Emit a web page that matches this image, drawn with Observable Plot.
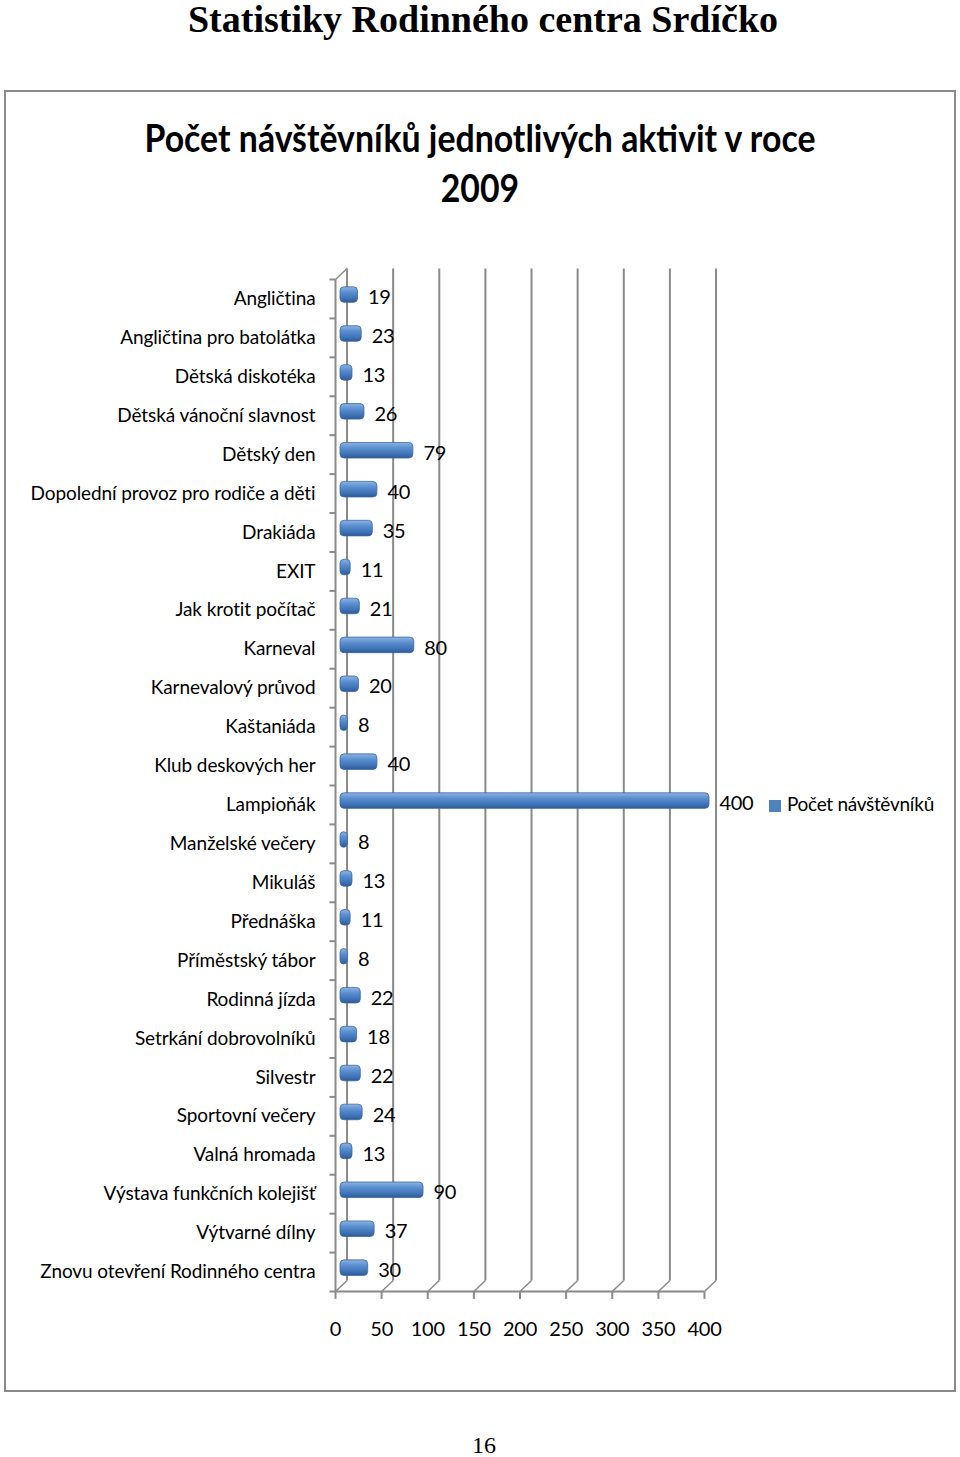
<!DOCTYPE html>
<html>
<head>
<meta charset="utf-8">
<script src="https://cdn.jsdelivr.net/npm/d3@7"></script>
<script src="https://cdn.jsdelivr.net/npm/@observablehq/plot@0.6"></script>
<style>
  html, body { margin: 0; padding: 0; background: #fff; }
  body { width: 960px; height: 1457px; position: relative; overflow: hidden; }
  #pagetitle { position: absolute; left: 0; top: -1px; width: 966px; text-align: center;
    font-family: "Liberation Serif", serif; font-weight: bold; font-size: 38px; line-height: 40px; color: #000; }
  #box { position: absolute; left: 4px; top: 90px; width: 948px; height: 1298px; border: 2px solid #8a8a8a; }
  #charttitle { position: absolute; left: 0; top: 112px; width: 960px; text-align: center;
    font-family: Lato, sans-serif; font-weight: bold; font-size: 38px; line-height: 50px; color: #000;
    transform: scaleX(0.89); transform-origin: 480px 0; }
  #chart { position: absolute; left: 0; top: 230px; }
  #legend { position: absolute; left: 769px; top: 792px; font-family: Lato, sans-serif;
    font-size: 19px; letter-spacing: -0.3px; color: #000; white-space: nowrap; }
  #legend span.sw { display: inline-block; width: 12px; height: 12px; background: #4f81bd; margin-right: 6px; vertical-align: -1px; }
  #pagenum { position: absolute; left: 0; top: 1432px; width: 968px; text-align: center;
    font-family: "Liberation Serif", serif; font-size: 24px; color: #000; }
  #chart g[aria-label="y-axis tick label"] text { letter-spacing: -0.1px; }
</style>
</head>
<body>
<div id="pagetitle">Statistiky Rodinného centra Srdíčko</div>
<div id="box"></div>
<div id="charttitle">Počet návštěvníků jednotlivých aktivit v roce<br>2009</div>
<div id="chart"></div>
<div id="legend"><span class="sw"></span>Počet návštěvníků</div>
<div id="pagenum">16</div>
<script>
const categories = [
  "Angličtina",
  "Angličtina pro batolátka",
  "Dětská diskotéka",
  "Dětská vánoční slavnost",
  "Dětský den",
  "Dopolední provoz pro rodiče a děti",
  "Drakiáda",
  "EXIT",
  "Jak krotit počítač",
  "Karneval",
  "Karnevalový průvod",
  "Kaštaniáda",
  "Klub deskových her",
  "Lampioňák",
  "Manželské večery",
  "Mikuláš",
  "Přednáška",
  "Příměstský tábor",
  "Rodinná jízda",
  "Setrkání dobrovolníků",
  "Silvestr",
  "Sportovní večery",
  "Valná hromada",
  "Výstava funkčních kolejišť",
  "Výtvarné dílny",
  "Znovu otevření Rodinného centra"
];
const visitors = [19, 23, 13, 26, 79, 40, 35, 11, 21, 80, 20, 8, 40, 400, 8, 13, 11, 8, 22, 18, 22, 24, 13, 90, 37, 30];
const xTicks = [0, 50, 100, 150, 200, 250, 300, 350, 400];
const seriesName = "Počet návštěvníků";

const rows = categories.map((c, i) => ({cat: c, i, v: visitors[i]}));
const n = categories.length;
const boundaries = d3.range(n + 1);

// 3D depth offsets (in data units)
const DX = 12.5, DY = -0.283;
const font = "Lato, sans-serif";
const grid = "#8a8a8a";

const plot = Plot.plot({
  width: 960,
  height: 1150,
  marginLeft: 335,
  marginRight: 256,
  marginTop: 49,
  marginBottom: 89,
  style: {fontFamily: font, fontSize: "19px", letterSpacing: "-0.3px", color: "#000", background: "transparent"},
  x: {domain: [0, 400]},
  y: {domain: [0, n], range: [49, 1061]},
  marks: [
    // back wall gridlines
    Plot.link(xTicks, {x1: d => d + DX, x2: d => d + DX, y1: DY, y2: n + DY, stroke: grid, strokeWidth: 2}),
    // left wall: front vertical and top diagonal
    Plot.link([0], {x1: 0, x2: 0, y1: 0, y2: n, stroke: grid, strokeWidth: 2}),
    Plot.link([0], {x1: 0, x2: DX, y1: 0, y2: DY, stroke: grid, strokeWidth: 1.5}),
    // floor: front edge and diagonals
    Plot.link([0], {x1: 0, x2: 400, y1: n, y2: n, stroke: grid, strokeWidth: 2}),
    Plot.link(xTicks, {x1: d => d, x2: d => d + DX, y1: n, y2: n + DY, stroke: grid, strokeWidth: 1.5}),
    // tick marks
    Plot.link(boundaries, {x1: -6.5, x2: 0, y1: d => d, y2: d => d, stroke: grid, strokeWidth: 2}),
    Plot.link(xTicks, {x1: d => d, x2: d => d, y1: n, y2: n + 0.19, stroke: grid, strokeWidth: 2}),
    // bars
    Plot.rectX(rows, {x1: 0, x2: "v", y1: d => d.i + 0.2, y2: d => d.i + 0.6, dx: 5, fill: "url(#barGrad)", stroke: "#3a6aa6", strokeWidth: 0.8, rx: 4}),
    // value labels
    Plot.text(rows, {x: "v", y: d => d.i + 0.47, text: d => String(d.v), dx: 15, textAnchor: "start", fontSize: 20, fill: "#000"}),
    // category labels (y axis)
    Plot.axisY(rows.map(d => d.i + 0.5), {tickSize: 0, tickPadding: 20, tickFormat: d => categories[Math.floor(d)], fontSize: 19, label: null}),
    // x axis labels
    Plot.axisX(xTicks, {tickSize: 0, tickPadding: 30, fontSize: 20, label: null})
  ]
});

// gradient for cylinder-like bars
const svg = d3.select(plot);
const defs = svg.insert("defs", ":first-child");
const g = defs.append("linearGradient").attr("id", "barGrad").attr("x1", 0).attr("y1", 0).attr("x2", 0).attr("y2", 1);
g.append("stop").attr("offset", "0%").attr("stop-color", "#8db3e2");
g.append("stop").attr("offset", "35%").attr("stop-color", "#5b8fd0");
g.append("stop").attr("offset", "75%").attr("stop-color", "#3f72b5");
g.append("stop").attr("offset", "100%").attr("stop-color", "#2d5a96");

document.getElementById("chart").appendChild(plot);
</script>
</body>
</html>
